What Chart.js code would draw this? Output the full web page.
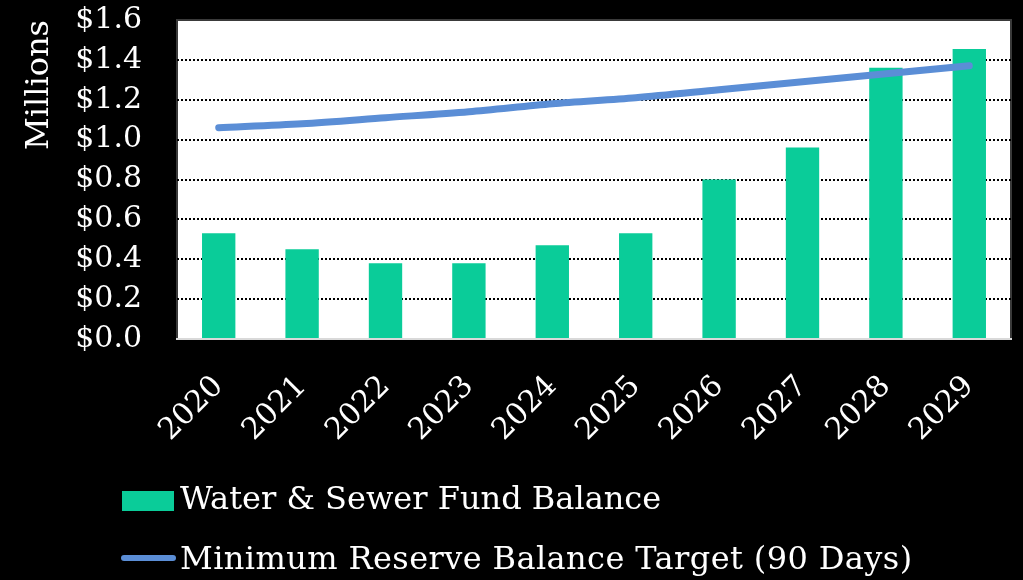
<!DOCTYPE html>
<html>
<head>
<meta charset="utf-8">
<script src="https://cdn.jsdelivr.net/npm/chart.js@4"></script>
<style>
  body { margin: 0; background: #000; }
  #wrap { position: relative; width: 1023px; height: 580px; background: #000; }
  .leg { position: absolute; left: 0; color: #fff; font-family: "DejaVu Serif", serif; font-size: 32px; white-space: nowrap; }
  .leg span { position: absolute; }
</style>
</head>
<body>
<div id="wrap">
  <canvas id="chart" width="1023" height="580"></canvas>
  <div class="leg" id="leg1" style="top:479px"><span style="left:122px;top:12px;width:52px;height:20px;background:#0acc99"></span><span id="t1" style="left:180px;top:0"></span></div>
  <div class="leg" id="leg2" style="top:539px"><span style="left:121px;top:16px;width:55px;height:6px;border-radius:3px;background:#5b8ed6"></span><span id="t2" style="left:180px;top:0;letter-spacing:0.4px"></span></div>
</div>
<script>
const years = ['2020', '2021', '2022', '2023', '2024', '2025', '2026', '2027', '2028', '2029']
const fundBalance = [0.53, 0.45, 0.38, 0.38, 0.47, 0.53, 0.80, 0.96, 1.36, 1.455]
const reserveTarget = [1.06, 1.08, 1.11, 1.14, 1.18, 1.21, 1.25, 1.29, 1.33, 1.37]
const yTicks = [0, 0.2, 0.4, 0.6, 0.8, 1.0, 1.2, 1.4, 1.6]
const seriesNames = ['Water & Sewer Fund Balance', 'Minimum Reserve Balance Target (90 Days)']

document.getElementById('t1').textContent = seriesNames[0]
document.getElementById('t2').textContent = seriesNames[1]

const serif = 'DejaVu Serif'

// white plot area with a thin dark frame
const plotBg = {
    id: 'plotBg',
    beforeDraw(chart) {
        const { ctx, chartArea: a } = chart
        ctx.save()
        ctx.fillStyle = '#fff'
        ctx.fillRect(a.left, a.top, a.right - a.left, a.bottom - a.top)
        ctx.strokeStyle = '#3a3a3a'
        ctx.lineWidth = 2
        ctx.strokeRect(a.left, a.top, a.right - a.left, a.bottom - a.top)
        ctx.restore()
    }
}

new Chart(document.getElementById('chart'), {
    data: {
        labels: years,
        datasets: [{
            type: 'line',
            label: seriesNames[1],
            data: reserveTarget,
            borderColor: '#5b8ed6',
            borderWidth: 7,
            borderCapStyle: 'round',
            pointRadius: 0,
            tension: 0.3,
            order: 0
        }, {
            type: 'bar',
            label: seriesNames[0],
            data: fundBalance,
            backgroundColor: '#0acc99',
            barPercentage: 0.4,
            categoryPercentage: 1,
            order: 1
        }]
    },
    options: {
        responsive: false,
        animation: false,
        layout: { padding: { top: 20, right: 12, bottom: 0, left: 0 } },
        plugins: {
            legend: { display: false },
            tooltip: { enabled: false }
        },
        scales: {
            x: {
                grid: { display: false, drawTicks: false },
                border: { color: '#d9d9d9', width: 2 },
                ticks: {
                    color: '#fff',
                    font: { family: serif, size: 30 },
                    minRotation: 45,
                    maxRotation: 45,
                    padding: 30
                },
                afterFit(scale) {
                    scale.height = 241
                    scale.paddingLeft = 0
                    scale.paddingRight = 0
                }
            },
            y: {
                min: 0,
                max: 1.6,
                afterBuildTicks(scale) { scale.ticks = yTicks.map(v => ({ value: v })) },
                grid: {
                    drawTicks: false,
                    color: c => (c.tick.value === 0 || c.tick.value === 1.6) ? 'rgba(0,0,0,0)' : '#000',
                    lineWidth: 2
                },
                border: { display: false, dash: [2, 2] },
                ticks: {
                    autoSkip: false,
                    color: '#fff',
                    font: { family: serif, size: 30 },
                    padding: 35,
                    callback: v => '$' + v.toFixed(1)
                },
                title: {
                    display: true,
                    text: 'Millions',
                    color: '#fff',
                    align: 'end',
                    font: { family: serif, size: 32 },
                    padding: { top: 20, bottom: 0 }
                },
                afterFit(scale) {
                    scale.width = 177
                    scale.paddingTop = 0
                    scale.paddingBottom = 0
                }
            }
        }
    },
    plugins: [plotBg]
});
</script>
</body>
</html>
